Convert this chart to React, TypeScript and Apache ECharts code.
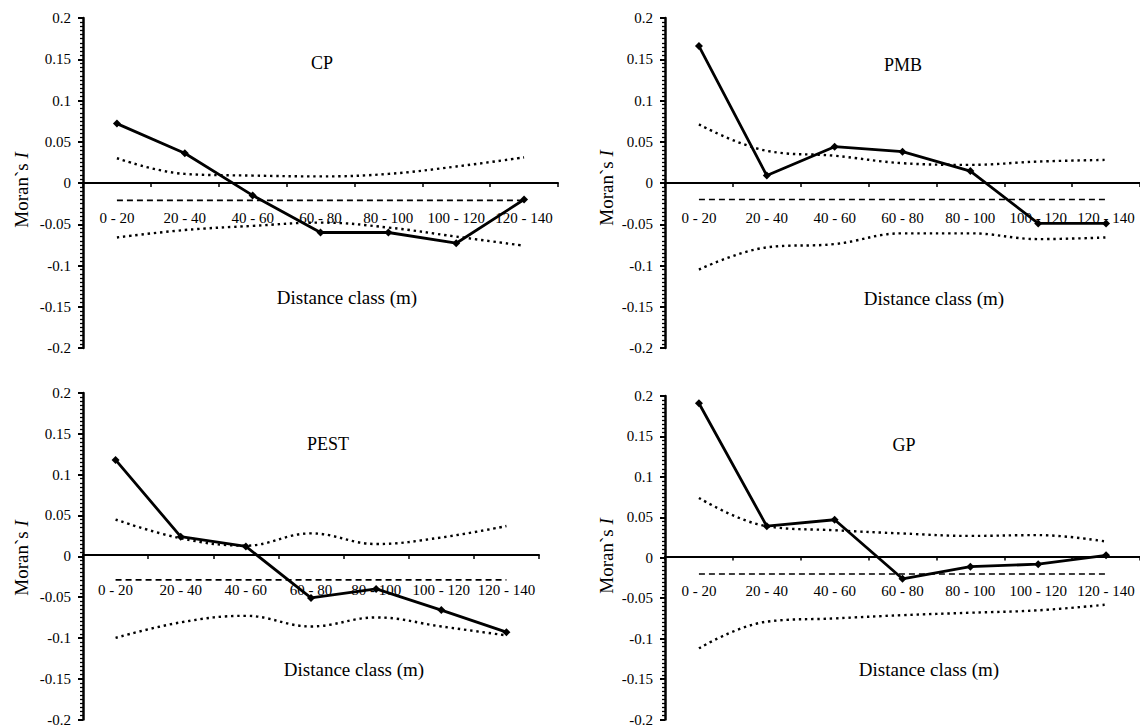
import React, { useEffect, useRef } from "react";
import * as echarts from "echarts";

// ---- data ----
const categories = ["0 - 20", "20 - 40", "40 - 60", "60 - 80", "80 - 100", "100 - 120", "120 - 140"];
const panelNames = ["CP", "PMB", "PEST", "GP"];
const xAxisTitle = "Distance class (m)";

const cpObserved = [0.072, 0.036, -0.015, -0.06, -0.06, -0.073, -0.02];
const cpUpper = [0.03, 0.011, 0.009, 0.008, 0.011, 0.02, 0.031];
const cpLower = [-0.066, -0.057, -0.052, -0.048, -0.054, -0.065, -0.076];
const cpExpected = -0.021;

const pmbObserved = [0.166, 0.009, 0.044, 0.038, 0.0145, -0.049, -0.049];
const pmbUpper = [0.071, 0.039, 0.033, 0.024, 0.022, 0.026, 0.028];
const pmbLower = [-0.105, -0.078, -0.074, -0.061, -0.061, -0.068, -0.066];
const pmbExpected = -0.02;

const pestObserved = [0.118, 0.024, 0.012, -0.051, -0.04, -0.066, -0.093];
const pestUpper = [0.045, 0.022, 0.013, 0.028, 0.015, 0.023, 0.037];
const pestLower = [-0.1, -0.081, -0.073, -0.086, -0.075, -0.086, -0.097];
const pestExpected = -0.029;

const gpObserved = [0.191, 0.039, 0.047, -0.026, -0.011, -0.008, 0.003];
const gpUpper = [0.074, 0.039, 0.034, 0.03, 0.027, 0.028, 0.02];
const gpLower = [-0.112, -0.079, -0.075, -0.071, -0.068, -0.065, -0.058];
const gpExpected = -0.02;

const yMin = -0.2;
const yMax = 0.2;
const yInterval = 0.05;

const panelData = [
  { observed: cpObserved, upper: cpUpper, lower: cpLower, expected: cpExpected },
  { observed: pmbObserved, upper: pmbUpper, lower: pmbLower, expected: pmbExpected },
  { observed: pestObserved, upper: pestUpper, lower: pestLower, expected: pestExpected },
  { observed: gpObserved, upper: gpUpper, lower: gpLower, expected: gpExpected },
];

// ---- layout ----
const layouts = [
  { left: 83, top: 18, width: 475, height: 330, tX: 322, tY: 63, dX: 347, dY: 297, mX: 21, mY: 190 },
  { left: 665, top: 18, width: 483, height: 330, tX: 903, tY: 65, dX: 934, dY: 298, mX: 606, mY: 188 },
  { left: 83, top: 393, width: 456, height: 329, tX: 328, tY: 444, dX: 354, dY: 669, mX: 21, mY: 558 },
  { left: 665, top: 396, width: 483, height: 326, tX: 904, tY: 445, dX: 929, dY: 669, mX: 606, mY: 556 },
];

const FONT = '"Liberation Serif", "Times New Roman", serif';

export default function App() {
  const ref = useRef<HTMLDivElement>(null);

  useEffect(() => {
    if (!ref.current) return;
    const chart = echarts.init(ref.current, undefined, { renderer: "svg" });

    const grid: any[] = [];
    const xAxis: any[] = [];
    const yAxis: any[] = [];
    const series: any[] = [];
    const graphic: any[] = [];

    layouts.forEach((L, i) => {
      grid.push({ left: L.left, top: L.top, width: L.width, height: L.height, containLabel: false });
      xAxis.push({
        type: "category",
        gridIndex: i,
        position: "bottom",
        // symmetric y range: zero sits at mid-height of the grid
        offset: -L.height / 2,
        data: categories,
        boundaryGap: true,
        axisLine: { show: true, onZero: false, lineStyle: { color: "#000", width: 2 } },
        axisTick: { show: true, length: 4, lineStyle: { color: "#000", width: 1.5 } },
        axisLabel: { interval: 0, margin: 27, fontSize: 15, fontFamily: FONT, color: "#000" },
        splitLine: { show: false },
      });
      yAxis.push({
        type: "value",
        gridIndex: i,
        position: "left",
        min: yMin,
        max: yMax,
        interval: yInterval,
        axisLine: { show: true, onZero: false, lineStyle: { color: "#000", width: 2.5 } },
        axisTick: { show: true, length: 5, lineStyle: { color: "#000", width: 2 } },
        minorTick: { show: true, splitNumber: 10, length: 3, lineStyle: { color: "#000", width: 1.3 } },
        axisLabel: { margin: 12, fontSize: 15, fontFamily: FONT, color: "#000" },
        splitLine: { show: false },
      });

      const d = panelData[i];
      series.push({
        type: "line",
        name: panelNames[i] + " upper",
        xAxisIndex: i,
        yAxisIndex: i,
        data: d.upper,
        smooth: 0.4,
        symbol: "none",
        lineStyle: { color: "#000", width: 2.4, type: [2.4, 3.8] },
        z: 2,
      });
      series.push({
        type: "line",
        name: panelNames[i] + " lower",
        xAxisIndex: i,
        yAxisIndex: i,
        data: d.lower,
        smooth: 0.4,
        symbol: "none",
        lineStyle: { color: "#000", width: 2.4, type: [2.4, 3.8] },
        z: 2,
      });
      series.push({
        type: "line",
        name: panelNames[i] + " expected",
        xAxisIndex: i,
        yAxisIndex: i,
        data: categories.map(() => d.expected),
        symbol: "none",
        lineStyle: { color: "#000", width: 1.6, type: [6, 4] },
        z: 2,
      });
      series.push({
        type: "line",
        name: panelNames[i],
        xAxisIndex: i,
        yAxisIndex: i,
        data: d.observed,
        symbol: "diamond",
        symbolSize: 8,
        itemStyle: { color: "#000" },
        lineStyle: { color: "#000", width: 2.8 },
        z: 5,
      });

      graphic.push({
        type: "text",
        x: L.tX,
        y: L.tY,
        style: { text: panelNames[i], fontSize: 18, fontFamily: FONT, fill: "#000", align: "center", verticalAlign: "middle" },
      });
      graphic.push({
        type: "text",
        x: L.dX,
        y: L.dY,
        style: { text: xAxisTitle, fontSize: 19, fontFamily: FONT, fill: "#000", align: "center", verticalAlign: "middle" },
      });
      graphic.push({
        type: "text",
        x: L.mX,
        y: L.mY,
        rotation: Math.PI / 2,
        style: {
          text: "Moran`s {i|I}",
          fontSize: 19,
          fontFamily: FONT,
          fill: "#000",
          align: "center",
          verticalAlign: "middle",
          rich: { i: { fontStyle: "italic", fontSize: 19, fontFamily: FONT, fill: "#000" } },
        },
      });
    });

    chart.setOption({
      animation: false,
      backgroundColor: "#fff",
      grid,
      xAxis,
      yAxis,
      series,
      graphic,
    });

    return () => chart.dispose();
  }, []);

  return (
    <div
      ref={ref}
      style={{ position: "absolute", left: 0, top: 0, width: 1140, height: 727, background: "#fff" }}
    />
  );
}
